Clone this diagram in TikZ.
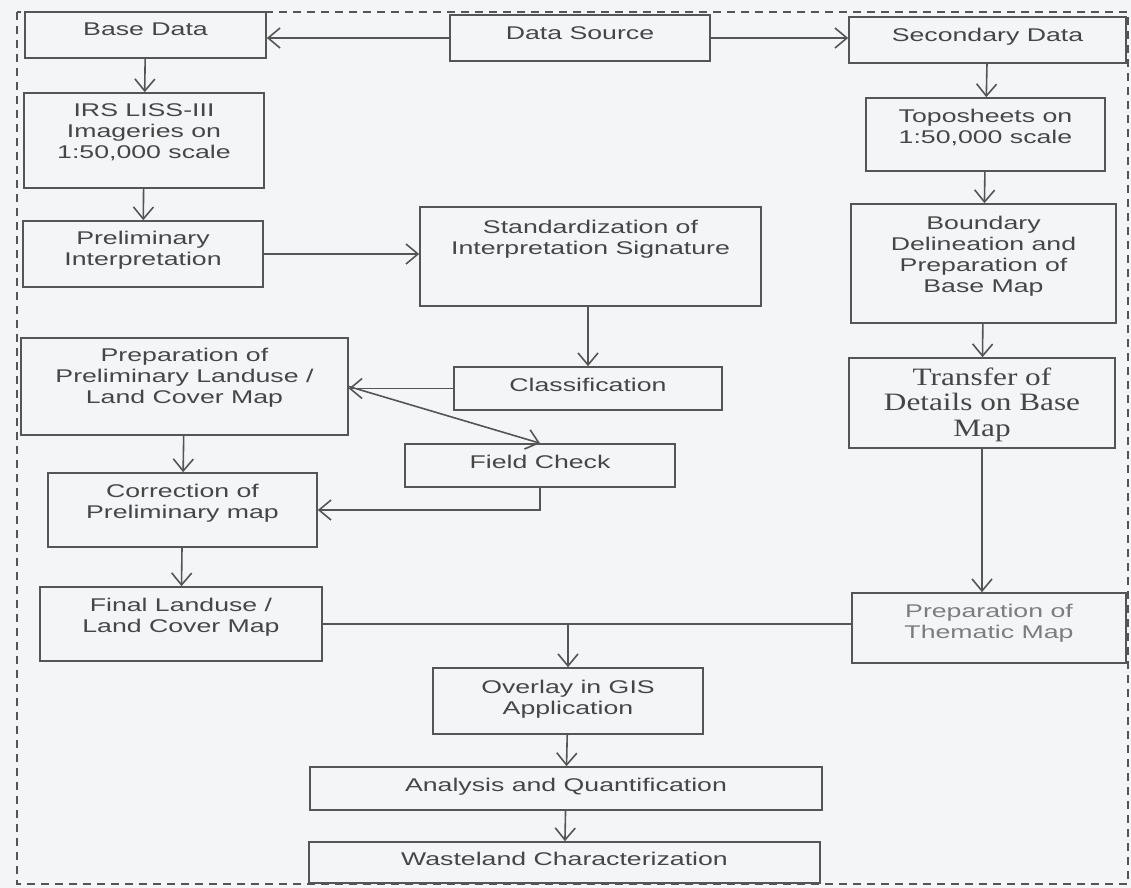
\documentclass[tikz,border=0pt]{standalone}
\usepackage{fontspec}
\setmainfont{Liberation Sans}[FakeStretch=1.45]
\newfontfamily\transferfont{Liberation Serif}[FakeStretch=1.25]
\usetikzlibrary{arrows.meta}
\definecolor{paper}{RGB}{243,245,247}
\definecolor{linegray}{RGB}{85,85,85}
\definecolor{textgray}{RGB}{70,70,70}
\definecolor{palegray}{RGB}{125,125,125}

\begin{document}
\begin{tikzpicture}[x=0.5pt,y=-0.5pt,line width=0.8pt,>={Straight Barb[length=6pt,width=10pt]}]
            \tikzstyle{stage}=[draw=linegray,text=textgray,align=center,inner xsep=2pt,inner ysep=0pt,font=\fontsize{9.2pt}{10.5pt}\selectfont]
            \tikzstyle{link}=[draw=linegray,->]

            \fill[paper] (0,0) rectangle (1131,888);
            \useasboundingbox (0,0) rectangle (1131,888);
            \draw[linegray,dash pattern=on 4pt off 3pt] (17,12) rectangle (1128,884);

            % left column
            \node (BD) at (145.5,35) [stage,minimum width=120.5pt,text height=12pt,text depth=11pt] {Base Data};
            \node (IRS) at (144,140.5) [stage,minimum width=120pt,text height=32.8pt,text depth=14.7pt] {IRS LISS-III\\Imageries on\\1:50,000 scale};
            \node (PI) at (143,254) [stage,minimum width=120pt,text height=22.3pt,text depth=10.7pt] {Preliminary\\Interpretation};
            \node (PL) at (184.5,386.5) [stage,minimum width=163.5pt,text height=32.8pt,text depth=15.7pt] {Preparation of\\Preliminary Landuse /\\Land Cover Map};
            \node (CP) at (182.5,510) [stage,minimum width=134.5pt,text height=22.8pt,text depth=14.2pt] {Correction of\\Preliminary map};
            \node (FL) at (181,624) [stage,minimum width=141pt,text height=22.8pt,text depth=14.2pt] {Final Landuse /\\Land Cover Map};

            % middle column
            \node (DS) at (580,38) [stage,minimum width=130pt,text height=12.25pt,text depth=10.75pt] {Data Source};
            \node (SIS) at (590.5,256.5) [stage,minimum width=170.5pt,text height=23.8pt,text depth=25.7pt] {Standardization of\\Interpretation Signature};
            \node (CL) at (588,388.5) [stage,minimum width=134pt,text height=12.3pt,text depth=9.2pt] {Classification};
            \node (FC) at (540,465.5) [stage,minimum width=135pt,text height=12pt,text depth=9.5pt] {Field Check};
            \node (OG) at (568,701) [stage,minimum width=135pt,text height=23.3pt,text depth=9.7pt] {Overlay in GIS\\Application};
            \node (AQ) at (566,788.5) [stage,minimum width=256pt,text height=12.3pt,text depth=9.2pt] {Analysis and Quantification};
            \node (WC) at (564.5,862.5) [stage,minimum width=255.5pt,text height=11.8pt,text depth=8.7pt] {Wasteland Characterization};

            % right column
            \node (SD) at (987.5,40) [stage,minimum width=138.5pt,text height=12.25pt,text depth=10.75pt] {Secondary Data};
            \node (TS) at (985.5,134.5) [stage,minimum width=119.5pt,text height=22.8pt,text depth=13.7pt] {Toposheets on\\1:50,000 scale};
            \node (BM) at (983.5,263.5) [stage,minimum width=132.5pt,text height=44.3pt,text depth=15.2pt] {Boundary\\Delineation and\\Preparation of\\Base Map};
            \node (TD) at (982,403) [stage,minimum width=133pt,text height=39.25pt,text depth=5.75pt,font=\transferfont\fontsize{12.5pt}{12.8pt}\selectfont] {Transfer of\\Details on Base\\Map};
            \node (TM) at (989,628) [stage,minimum width=137pt,text height=22.8pt,text depth=12.2pt,text=palegray] {Preparation of\\Thematic Map};

            \draw[link] (DS.west) to (DS.west -| BD.east);
            \draw[link] (DS.east) to (DS.east -| SD.west);
            \draw[link] (BD) to (IRS);
            \draw[link] (IRS) to (PI);
            \draw[link] (PI.east) to (PI.east -| SIS.west);
            \draw[link] (SIS.south -| CL.north) to (CL.north);
            \draw[link] (CL.west) to (CL.west -| PL.east);
            \draw[link] (PL.east) to (FC.north);
            \draw[link] (FC.south) |- (CP.east);
            \draw[link] (PL) to (CP);
            \draw[link] (CP) to (FL);
            \draw[link] (SD) to (TS);
            \draw[link] (TS) to (BM);
            \draw[link] (BM) to (TD);
            \draw[link] (TD.south) to (TD.south |- TM.north);
            \draw[linegray] (FL.east) to (FL.east -| TM.west);
            \draw[link] (FL.east -| OG.north) to (OG.north);
            \draw[link] (OG) to (AQ);
            \draw[link] (AQ) to (WC);
          \end{tikzpicture}
\end{document}
